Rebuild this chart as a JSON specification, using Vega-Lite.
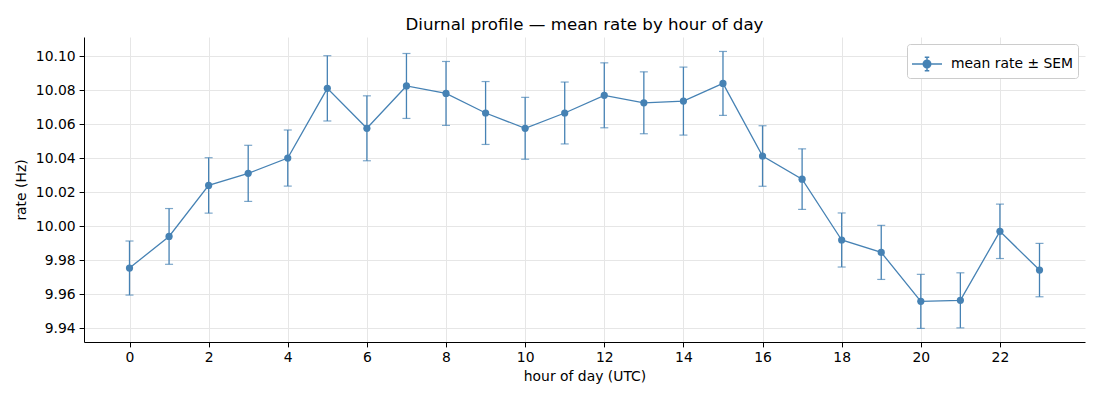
{
  "$schema": "https://vega.github.io/schema/vega-lite/v6.json",
  "autosize": "none",
  "width": 1001,
  "height": 305,
  "padding": {"left": 84, "top": 37, "right": 15, "bottom": 58},
  "background": "white",
  "title": {"text": "Diurnal profile — mean rate by hour of day", "anchor": "middle", "frame": "group", "fontSize": 16.67, "fontWeight": "normal", "font": "DejaVu Sans", "color": "black", "offset": 3},
  "config": {
    "font": "DejaVu Sans",
    "view": {"stroke": null},
    "axis": {"domainColor": "black", "tickColor": "black", "tickSize": 4.9, "labelFontSize": 13.9, "labelColor": "black", "titleFontSize": 13.9, "titleFontWeight": "normal", "titleColor": "black", "gridColor": "#e6e6e6", "gridWidth": 1, "domainWidth": 1, "labelPadding": 4}
  },
  "data": {"values": [
    {"hour": 0, "rate": 9.9753, "sem": 0.0159},
    {"hour": 1, "rate": 9.9939, "sem": 0.0164},
    {"hour": 2, "rate": 10.0239, "sem": 0.0163},
    {"hour": 3, "rate": 10.0310, "sem": 0.0165},
    {"hour": 4, "rate": 10.0400, "sem": 0.0165},
    {"hour": 5, "rate": 10.0810, "sem": 0.0192},
    {"hour": 6, "rate": 10.0575, "sem": 0.0191},
    {"hour": 7, "rate": 10.0824, "sem": 0.0191},
    {"hour": 8, "rate": 10.0780, "sem": 0.0188},
    {"hour": 9, "rate": 10.0665, "sem": 0.0185},
    {"hour": 10, "rate": 10.0575, "sem": 0.0182},
    {"hour": 11, "rate": 10.0665, "sem": 0.0182},
    {"hour": 12, "rate": 10.0769, "sem": 0.0191},
    {"hour": 13, "rate": 10.0725, "sem": 0.0182},
    {"hour": 14, "rate": 10.0735, "sem": 0.0200},
    {"hour": 15, "rate": 10.0839, "sem": 0.0188},
    {"hour": 16, "rate": 10.0412, "sem": 0.0178},
    {"hour": 17, "rate": 10.0276, "sem": 0.0178},
    {"hour": 18, "rate": 9.9918, "sem": 0.0159},
    {"hour": 19, "rate": 9.9845, "sem": 0.0159},
    {"hour": 20, "rate": 9.9557, "sem": 0.0159},
    {"hour": 21, "rate": 9.9563, "sem": 0.0162},
    {"hour": 22, "rate": 9.9969, "sem": 0.0160},
    {"hour": 23, "rate": 9.9741, "sem": 0.0157}
  ]},
  "encoding": {
    "x": {"field": "hour", "type": "quantitative", "scale": {"domain": [-1.15, 24.15], "nice": false, "zero": false}, "axis": {"values": [0,2,4,6,8,10,12,14,16,18,20,22], "title": "hour of day (UTC)", "grid": true, "titlePadding": 5}},
    "y": {"field": "rate", "type": "quantitative", "scale": {"domain": [9.9318, 10.1112], "nice": false, "zero": false}, "axis": {"values": [9.94,9.96,9.98,10.0,10.02,10.04,10.06,10.08,10.1], "format": ".2f", "title": "rate (Hz)", "grid": true, "titlePadding": 7}}
  },
  "layer": [
    {
      "mark": {"type": "errorbar", "ticks": {"size": 8, "thickness": 1.2}, "color": "#4682b4", "thickness": 1.3},
      "encoding": {"yError": {"field": "sem"}}
    },
    {
      "mark": {"type": "line", "strokeWidth": 1.3},
      "encoding": {"color": {"datum": "mean rate ± SEM", "type": "nominal", "scale": {"range": ["#4682b4"]}, "legend": {"title": null, "orient": "top-right", "offset": 7, "labelFontSize": 13.9, "labelColor": "black", "symbolType": "M-1,0H1M0,-0.45V0.45M-0.15,-0.45H0.15M-0.15,0.45H0.15M-0.25,0A0.25,0.25 0 1,0 0.25,0A0.25,0.25 0 1,0 -0.25,0", "symbolSize": 900, "symbolStrokeWidth": 1.5, "symbolFillColor": "#4682b4", "strokeColor": "#cccccc", "fillColor": "white", "padding": 4, "cornerRadius": 3, "labelOffset": 8}}}
    },
    {
      "mark": {"type": "point", "filled": true, "opacity": 1, "size": 52, "color": "#4682b4"}
    }
  ]
}
